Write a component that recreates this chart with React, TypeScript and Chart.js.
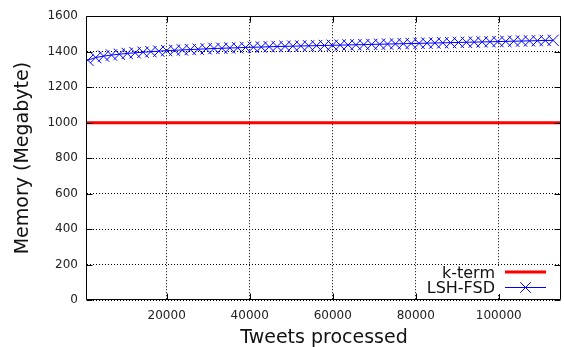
import { useEffect, useRef } from 'react';
import { Chart, registerables } from 'chart.js';

Chart.register(...registerables);

const tweetsProcessed = [
  1000, 2900, 4800, 6700, 8600, 10500, 12400, 14300, 16200, 18100,
  20000, 21900, 23800, 25700, 27600, 29500, 31400, 33300, 35200, 37100,
  39000, 40900, 42800, 44700, 46600, 48500, 50400, 52300, 54200, 56100,
  58000, 59900, 61800, 63700, 65600, 67500, 69400, 71300, 73200, 75100,
  77000, 78900, 80800, 82700, 84600, 86500, 88400, 90300, 92200, 94100,
  96000, 97900, 99800, 101700, 103600, 105500, 107400, 109300, 111200, 113100,
];
const lshFsdMemory = [
  1352, 1367, 1375, 1381, 1386, 1390, 1394, 1397, 1400, 1403,
  1406, 1408, 1410, 1412, 1414, 1416, 1418, 1419, 1421, 1422,
  1424, 1425, 1426, 1428, 1429, 1430, 1431, 1432, 1433, 1434,
  1435, 1436, 1437, 1438, 1439, 1440, 1441, 1442, 1443, 1444,
  1445, 1446, 1447, 1448, 1449, 1450, 1451, 1452, 1453, 1454,
  1455, 1456, 1457, 1458, 1459, 1460, 1461, 1462, 1463, 1464,
];
const kTermTweets = [800, 115000];
const kTermMemory = [1000, 1000];
const xTickValues = [20000, 40000, 60000, 80000, 100000];
const yTickValues = [0, 200, 400, 600, 800, 1000, 1200, 1400, 1600];
const xMin = 800;
const xMax = 115000;
const yMin = 0;
const yMax = 1600;
const xTitle = 'Tweets processed';
const yTitle = 'Memory (Megabyte)';
const seriesNames = ['k-term', 'LSH-FSD'];

const FONT = '"DejaVu Sans", Verdana, sans-serif';
const RED = '#ff0000';
const BLUE = '#0000ff';

function drawCross(ctx: CanvasRenderingContext2D, x: number, y: number, r: number) {
  const d = r * Math.SQRT1_2;
  ctx.beginPath();
  ctx.moveTo(x - d, y - d);
  ctx.lineTo(x + d, y + d);
  ctx.moveTo(x - d, y + d);
  ctx.lineTo(x + d, y - d);
  ctx.stroke();
}

const decorPlugin = {
  id: 'decor',
  afterDraw(chart: any) {
    const { ctx, chartArea: a, scales } = chart;
    const xs = scales.x;
    const ys = scales.y;
    ctx.save();

    // frame
    ctx.strokeStyle = '#000';
    ctx.lineWidth = 1;
    ctx.setLineDash([]);
    const L = Math.round(a.left) - 0.5;
    const R = Math.round(a.right) - 0.5;
    const T = Math.round(a.top) + 0.5;
    const B = Math.round(a.bottom) - 0.5;
    ctx.beginPath();
    ctx.moveTo(L, T);
    ctx.lineTo(R, T);
    ctx.lineTo(R, B);
    ctx.lineTo(L, B);
    ctx.closePath();
    ctx.stroke();

    // inward tick marks (mirrored)
    const tl = 6;
    ctx.beginPath();
    for (const v of yTickValues) {
      const y = Math.round(ys.getPixelForValue(v)) + 0.5;
      ctx.moveTo(L, y);
      ctx.lineTo(L + tl, y);
      ctx.moveTo(R, y);
      ctx.lineTo(R - tl, y);
    }
    for (const v of xTickValues) {
      const x = Math.round(xs.getPixelForValue(v)) + 0.5;
      ctx.moveTo(x, B);
      ctx.lineTo(x, B - tl);
      ctx.moveTo(x, T);
      ctx.lineTo(x, T + tl);
    }
    ctx.stroke();

    // key
    const keyTextRight = a.right - 66;
    const sampleL = a.right - 56;
    const sampleR = a.right - 15;
    const row1 = 272;
    const row2 = 287;
    ctx.fillStyle = '#fff';
    ctx.fillRect(sampleL - 8, row1 - 6, sampleR - sampleL + 12, row2 - row1 + 13);

    ctx.font = `16px ${FONT}`;
    ctx.fillStyle = '#111';
    ctx.textAlign = 'right';
    ctx.textBaseline = 'alphabetic';
    ctx.fillText(seriesNames[0], keyTextRight, row1 + 6);
    ctx.fillText(seriesNames[1], keyTextRight, row2 + 6);

    ctx.strokeStyle = RED;
    ctx.lineWidth = 3;
    ctx.beginPath();
    ctx.moveTo(sampleL, row1);
    ctx.lineTo(sampleR, row1);
    ctx.stroke();

    ctx.strokeStyle = BLUE;
    ctx.lineWidth = 1;
    ctx.beginPath();
    ctx.moveTo(sampleL, row2 + 0.5);
    ctx.lineTo(sampleR, row2 + 0.5);
    ctx.stroke();
    drawCross(ctx, (sampleL + sampleR) / 2, row2 + 0.5, 7.5);

    // axis titles
    ctx.fillStyle = '#111';
    ctx.font = `19px ${FONT}`;
    ctx.textAlign = 'center';
    ctx.textBaseline = 'alphabetic';
    ctx.fillText(xTitle, (a.left + a.right) / 2, 343);

    ctx.save();
    ctx.translate(28, (a.top + a.bottom) / 2);
    ctx.rotate(-Math.PI / 2);
    ctx.fillText(yTitle, 0, 0);
    ctx.restore();

    ctx.restore();
  },
};

export default function App() {
  const canvasRef = useRef<HTMLCanvasElement | null>(null);

  useEffect(() => {
    document.body.style.margin = '0';
    const canvas = canvasRef.current;
    if (!canvas) return;
    const chart = new Chart(canvas, {
      type: 'line',
      data: {
        datasets: [
          {
            label: seriesNames[0],
            data: kTermTweets.map((x, i) => ({ x, y: kTermMemory[i] })),
            borderColor: RED,
            backgroundColor: RED,
            borderWidth: 3,
            pointRadius: 0,
            fill: false,
          },
          {
            label: seriesNames[1],
            data: tweetsProcessed.map((x, i) => ({ x, y: lshFsdMemory[i] })),
            borderColor: BLUE,
            backgroundColor: BLUE,
            borderWidth: 1,
            pointStyle: 'crossRot',
            pointRadius: 8,
            pointBorderColor: BLUE,
            pointBorderWidth: 1,
            fill: false,
          },
        ],
      },
      options: {
        animation: false,
        responsive: true,
        maintainAspectRatio: false,
        layout: { padding: { top: 16, right: 4, left: 0, bottom: 0 } },
        plugins: {
          legend: { display: false },
          tooltip: { enabled: false },
        },
        scales: {
          x: {
            type: 'linear',
            min: xMin,
            max: xMax,
            afterBuildTicks: (scale: any) => {
              scale.ticks = xTickValues.map((v) => ({ value: v }));
            },
            afterFit: (scale: any) => {
              scale.height = 47;
            },
            ticks: {
              padding: 9,
              color: '#222',
              font: { family: FONT, size: 12 },
              callback: (v: any) => String(v),
              maxRotation: 0,
            },
            grid: {
              color: '#000',
              lineWidth: 1,
              drawTicks: false,
            },
            border: { display: false, dash: [1, 2] },
          },
          y: {
            type: 'linear',
            min: yMin,
            max: yMax,
            afterBuildTicks: (scale: any) => {
              scale.ticks = yTickValues.map((v) => ({ value: v }));
            },
            afterFit: (scale: any) => {
              scale.width = 87;
            },
            ticks: {
              padding: 9,
              color: '#222',
              font: { family: FONT, size: 12 },
              callback: (v: any) => String(v),
            },
            grid: {
              color: '#000',
              lineWidth: 1,
              drawTicks: false,
            },
            border: { display: false, dash: [1, 2] },
          },
        },
      },
      plugins: [decorPlugin],
    } as any);
    return () => chart.destroy();
  }, []);

  return (
    <div style={{ position: 'absolute', left: 0, top: 0, width: 564, height: 347, overflow: 'hidden' }}>
      <div style={{ position: 'relative', width: 570, height: 347 }}>
        <canvas ref={canvasRef} />
      </div>
    </div>
  );
}
